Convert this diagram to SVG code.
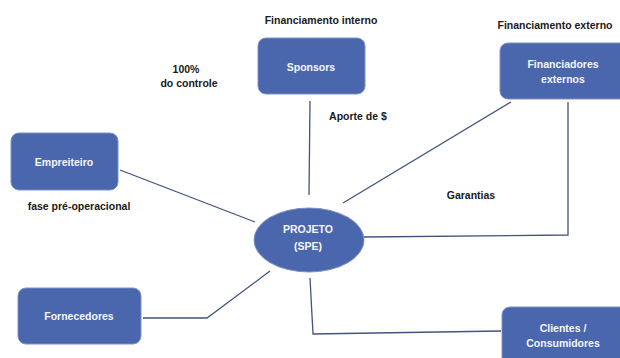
<svg xmlns="http://www.w3.org/2000/svg" width="620" height="358" viewBox="0 0 620 358">
<style>
.box{fill:#4a66ad;stroke:#7a90c8;stroke-width:1}
.bt{fill:#f4f6fb;font-family:"Liberation Sans",Arial,sans-serif;font-size:10.5px;font-weight:bold;text-anchor:middle}
.lb{fill:#1a1a1a;font-family:"Liberation Sans",Arial,sans-serif;font-size:10.5px;font-weight:bold;text-anchor:middle}
.ln{fill:none;stroke:#44537f;stroke-width:1.3}
</style>
<rect width="620" height="358" fill="#ffffff"/>
<g id="connectors">
<line class="ln" x1="310" y1="101" x2="309" y2="195"/>
<line class="ln" x1="120" y1="170" x2="255" y2="222"/>
<line class="ln" x1="511" y1="102" x2="343" y2="203"/>
<polyline class="ln" points="568,102 568,235 364,237"/>
<polyline class="ln" points="143,318 207,318 270,271"/>
<polyline class="ln" points="310,278 313,334 501,331"/>
</g>
<g id="labels">
<text class="lb" x="321" y="24">Financiamento interno</text>
<text class="lb" x="555" y="29">Financiamento externo</text>
<text class="lb" x="186" y="73">100%</text>
<text class="lb" x="189" y="87">do controle</text>
<text class="lb" x="358" y="120">Aporte de $</text>
<text class="lb" x="471" y="199">Garantias</text>
<text class="lb" x="79" y="210">fase pré-operacional</text>
</g>
<g id="sponsors">
<rect class="box" x="258" y="38" width="107" height="56" rx="8"/>
<text class="bt" x="311" y="71">Sponsors</text>
</g>
<g id="financiadores">
<rect class="box" x="500" y="43" width="130" height="56" rx="8"/>
<text class="bt" x="563" y="68">Financiadores</text>
<text class="bt" x="563" y="83">externos</text>
</g>
<g id="empreiteiro">
<rect class="box" x="11" y="133" width="107" height="57" rx="8"/>
<text class="bt" x="64" y="166">Empreiteiro</text>
</g>
<g id="projeto">
<ellipse class="box" cx="309" cy="240" rx="55" ry="32"/>
<text class="bt" x="308" y="233">PROJETO</text>
<text class="bt" x="308" y="250">(SPE)</text>
</g>
<g id="fornecedores">
<rect class="box" x="18" y="288" width="123" height="56" rx="8"/>
<text class="bt" x="79" y="320">Fornecedores</text>
</g>
<g id="clientes">
<rect class="box" x="502" y="307" width="130" height="64" rx="8"/>
<text class="bt" x="563" y="332">Clientes /</text>
<text class="bt" x="563" y="347">Consumidores</text>
</g>
</svg>
